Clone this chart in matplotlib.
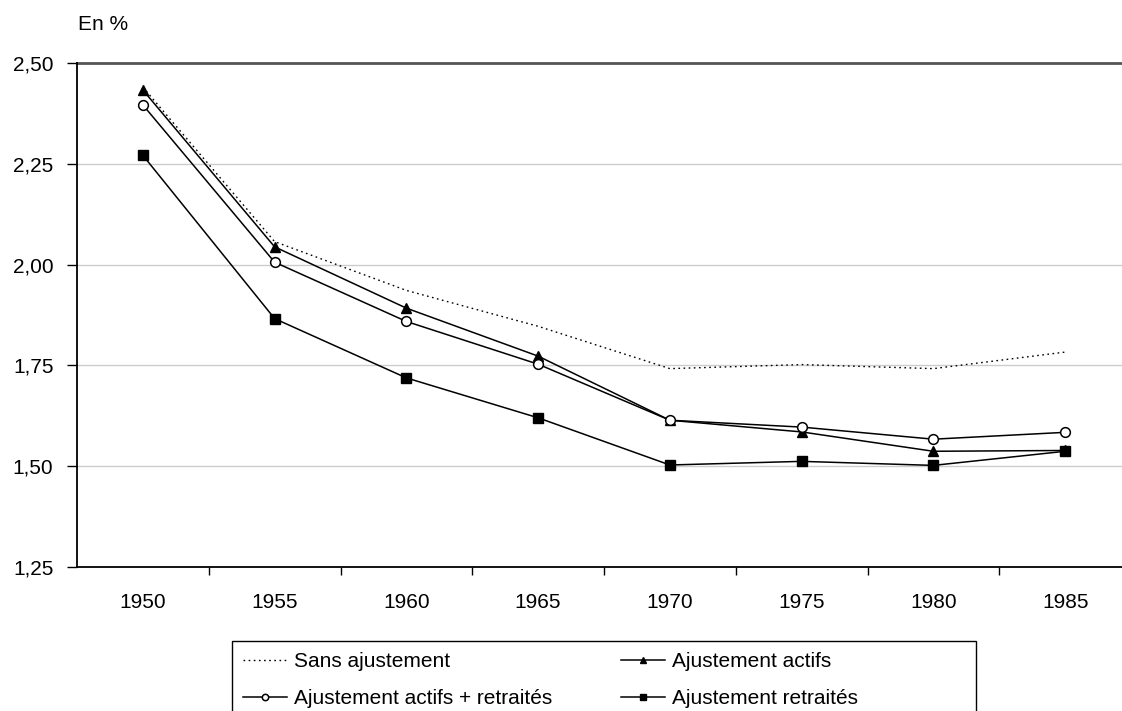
import matplotlib.pyplot as plt
from matplotlib.patches import Rectangle
from matplotlib.ticker import FixedLocator

plt.rcParams['font.family'] = ['Liberation Sans', 'DejaVu Sans']

years = ['1950', '1955', '1960', '1965', '1970', '1975', '1980', '1985']
sans_ajustement = [2.44, 2.057, 1.936, 1.847, 1.742, 1.752, 1.742, 1.783]
ajust_actifs = [2.433, 2.044, 1.892, 1.773, 1.614, 1.585, 1.537, 1.539]
ajust_actifs_retraites = [2.396, 2.006, 1.859, 1.753, 1.614, 1.597, 1.567, 1.584]
ajust_retraites = [2.271, 1.866, 1.719, 1.620, 1.503, 1.512, 1.502, 1.537]
yticks = [1.25, 1.50, 1.75, 2.00, 2.25, 2.50]

fig = plt.figure(figsize=(11.22, 7.11), dpi=100)
ax = fig.add_axes([77 / 1122, 144 / 711, 1054 / 1122, 504 / 711])

x = list(range(len(years)))
l_sans, = ax.plot(x, sans_ajustement, color='black', lw=1.0, ls=(0, (1.2, 2.5)),
                  label='Sans ajustement')
l_act, = ax.plot(x, ajust_actifs, color='black', lw=1.1, marker='^', ms=7,
                 label='Ajustement actifs')
l_ar, = ax.plot(x, ajust_actifs_retraites, color='black', lw=1.1, marker='o', ms=7,
                mfc='white', mec='black', mew=1.1, label='Ajustement actifs + retraités')
l_ret, = ax.plot(x, ajust_retraites, color='black', lw=1.1, marker='s', ms=6.5,
                 label='Ajustement retraités')

ax.set_xlim(-0.5, len(years) - 0.5)
ax.set_ylim(1.25, 2.50)

ax.set_yticks(yticks)
ax.set_yticklabels([f'{v:.2f}'.replace('.', ',') for v in yticks])
for v in yticks[1:-1]:
    ax.axhline(v, color='#cccccc', lw=1.0, zorder=0)
ax.axhline(2.50, color='#555555', lw=2.0, zorder=0, clip_on=False)

ax.xaxis.set_major_locator(FixedLocator([i + 0.5 for i in range(len(years) - 1)]))
ax.xaxis.set_minor_locator(FixedLocator(x))
ax.set_xticklabels([], minor=False)
ax.set_xticklabels(years, minor=True)
ax.tick_params(axis='x', which='major', length=6, width=1, direction='out')
ax.tick_params(axis='x', which='minor', length=0, pad=19, labelsize=15)
ax.tick_params(axis='y', length=7, width=1, direction='out', pad=10, labelsize=15)

for s in ['top', 'right']:
    ax.spines[s].set_visible(False)
ax.spines['left'].set_linewidth(1.3)
ax.spines['bottom'].set_linewidth(1.3)

fig.text(78 / 1122, 1 - 25 / 711, 'En %', fontsize=15, va='center', ha='left')

# legend box (runs off the bottom of the figure like the original)
fig.patches.append(Rectangle((232 / 1122, -0.05), (976 - 232) / 1122,
                             (711 - 641) / 711 + 0.05, transform=fig.transFigure,
                             fill=False, edgecolor='black', lw=1.0))
fig.legend([l_sans, l_ar, l_act, l_ret],
           [l.get_label() for l in (l_sans, l_ar, l_act, l_ret)],
           loc='upper left', bbox_to_anchor=(232 / 1122, 1 - 641 / 711),
           ncol=2, fontsize=15, frameon=False,
           handlelength=2.1, handletextpad=0.33,
           columnspacing=3.3, borderpad=0.55, labelspacing=0.85,
           markerscale=0.65, borderaxespad=0)

fig.savefig('out.png', dpi=100)
